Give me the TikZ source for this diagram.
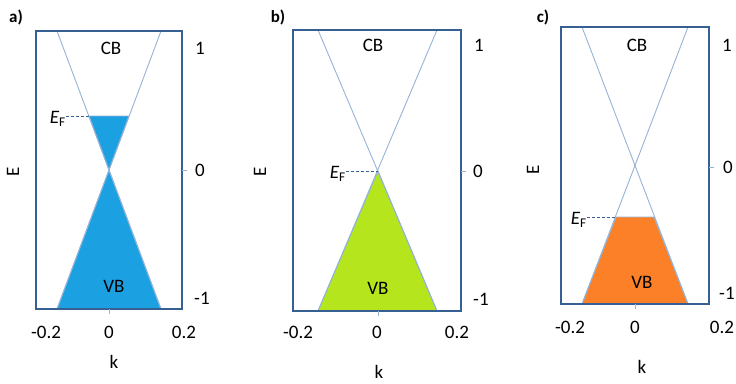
\documentclass[tikz,border=0pt]{standalone}
\usepackage{fontspec}
\setmainfont{Carlito}
\definecolor{framecol}{RGB}{55,96,146}
\definecolor{conecol}{RGB}{149,179,215}
\definecolor{fillA}{RGB}{27,161,226}
\definecolor{fillB}{RGB}{181,230,29}
\definecolor{fillC}{RGB}{251,128,40}
\newcommand{\fermilev}{\textit{E}\textsubscript{F}}
\tikzset{
  frame/.style={draw=framecol, line width=2.2pt},
  cone/.style={draw=conecol, line width=0.9pt},
  tickmark/.style={draw=conecol, line width=0.9pt},
  fermi/.style={draw=framecol, dashed, dash pattern=on 3pt off 2pt, line width=0.7pt},
  lab/.style={font=\fontsize{19}{19}\selectfont, inner sep=0pt},
  panel/.style={font=\bfseries\fontsize{17}{17}\selectfont, inner sep=0pt}
}
\begin{document}
\begin{tikzpicture}[x=1pt, y=-1pt]
\useasboundingbox (0,0) rectangle (736,383);

% ---- a) ----
\node[panel] (pa) at (16,17) {a)};
\coordinate (Da) at (109,170);
\coordinate (EFa) at (89,116);
\fill[fillA, cone] (EFa) -- (129,116) -- (Da) -- cycle;
\fill[fillA, cone] (Da) -- (161,309) -- (57,309) -- cycle;
\draw[cone] (57,31) -- (161,309);
\draw[cone] (161,31) -- (57,309);
\draw[frame] (36,31) rectangle (182,309);
\draw[tickmark] (182,170) -- (187,170);
\draw[tickmark] (109,309) -- (109,314);
\node[lab, anchor=east] (efa) at (66,119) {\fermilev};
\draw[fermi] (efa.east |- EFa) -- (EFa);
\node[lab] (cba) at (111,48) {CB};
\node[lab] (vba) at (114,286) {VB};
\node[lab, anchor=west] (ya1) at (195,48) {1};
\node[lab, anchor=west] (ya0) at (195,170) {0};
\node[lab, anchor=west] (yam) at (194,298) {-1};
\node[lab] (xam) at (46,332) {-0.2};
\node[lab] (xa0) at (109,332) {0};
\node[lab] (xap) at (184,332) {0.2};
\node[lab] (ka) at (114,362) {k};
\node[lab, rotate=90] (ea) at (13,172) {E};

% ---- b) ----
\node[panel] (pb) at (278,17) {b)};
\coordinate (Db) at (378,171);
\fill[fillB, cone] (Db) -- (437,311) -- (318,311) -- cycle;
\draw[cone] (318,30) -- (437,311);
\draw[cone] (437,30) -- (318,311);
\draw[frame] (293,30) rectangle (461,311);
\draw[tickmark] (461,171) -- (466,171);
\draw[tickmark] (378,311) -- (378,316);
\node[lab, anchor=east] (efb) at (346,174) {\fermilev};
\draw[fermi] (efb.east |- Db) -- (Db);
\node[lab] (cbb) at (373,45) {CB};
\node[lab] (vbb) at (378,288) {VB};
\node[lab, anchor=west] (yb1) at (474,45) {1};
\node[lab, anchor=west] (yb0) at (473,171) {0};
\node[lab, anchor=west] (ybm) at (473,299) {-1};
\node[lab] (xbm) at (298,332) {-0.2};
\node[lab] (xb0) at (377,332) {0};
\node[lab] (xbp) at (457,332) {0.2};
\node[lab] (kb) at (379,372) {k};
\node[lab, rotate=90] (eb) at (260,172) {E};

% ---- c) ----
\node[panel] (pc) at (543,17) {c)};
\coordinate (Dc) at (635,167);
\coordinate (EFc) at (616,217);
\fill[fillC, cone] (EFc) -- (654,217) -- (688,304) -- (582,304) -- cycle;
\draw[cone] (582,27) -- (688,304);
\draw[cone] (688,27) -- (582,304);
\draw[frame] (561,27) rectangle (709,304);
\draw[tickmark] (709,167) -- (714,167);
\draw[tickmark] (635,304) -- (635,309);
\node[lab, anchor=east] (efc) at (587,220) {\fermilev};
\draw[fermi] (efc.east |- EFc) -- (EFc);
\node[lab] (cbc) at (637,45) {CB};
\node[lab] (vbc) at (642,282) {VB};
\node[lab, anchor=west] (yc1) at (722,45) {1};
\node[lab, anchor=west] (yc0) at (723,167) {0};
\node[lab, anchor=west] (ycm) at (719,293) {-1};
\node[lab] (xcm) at (570,327) {-0.2};
\node[lab] (xc0) at (635,327) {0};
\node[lab] (xcp) at (722,327) {0.2};
\node[lab] (kc) at (642,367) {k};
\node[lab, rotate=90] (ec) at (533,170) {E};
\end{tikzpicture}
\end{document}
